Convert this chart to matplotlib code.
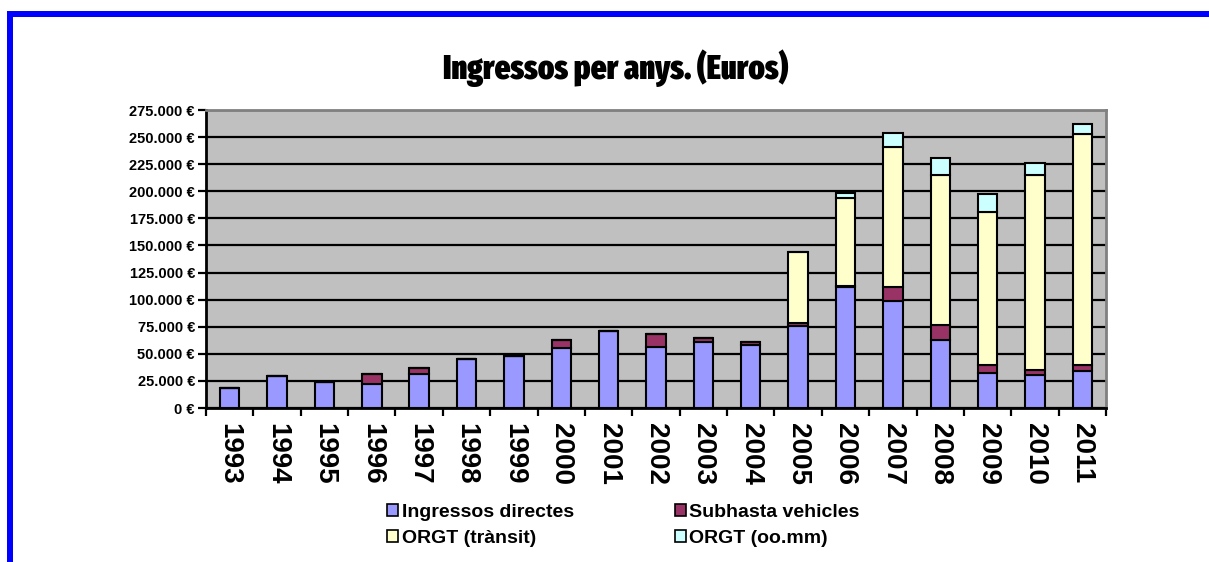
import matplotlib
matplotlib.use("Agg")
import matplotlib.pyplot as plt
from matplotlib import font_manager
from matplotlib.lines import Line2D
from matplotlib.patches import Patch
from matplotlib.ticker import FuncFormatter, MultipleLocator, FixedLocator
import numpy as np

years = ["1993", "1994", "1995", "1996", "1997", "1998", "1999", "2000", "2001", "2002",
         "2003", "2004", "2005", "2006", "2007", "2008", "2009", "2010", "2011"]
ingressos = [18000, 29500, 24000, 22000, 31000, 45500, 48000, 55000, 71000, 56000,
             61000, 58000, 75500, 112000, 98500, 62500, 32000, 30500, 34500]
subhasta = [0, 0, 0, 9500, 5500, 0, 0, 8000, 0, 12000,
            4000, 3000, 3000, 500, 13500, 14000, 8000, 4500, 5500]
transit = [0, 0, 0, 0, 0, 0, 0, 0, 0, 0,
           0, 0, 65000, 81500, 129000, 138500, 141000, 180000, 213000]
oomm = [0, 0, 0, 0, 0, 0, 0, 0, 0, 0,
        0, 0, 0, 4000, 12500, 15500, 16500, 11000, 9500]
series_names = ["Ingressos directes", "Subhasta vehicles", "ORGT (trànsit)", "ORGT (oo.mm)"]
colors = ["#9999FF", "#993366", "#FFFFCC", "#CCFFFF"]
title = "Ingressos per anys. (Euros)"

# pick a condensed, heavy font for the title if one is installed
best = None
for f in font_manager.fontManager.ttflist:
    nm = f.name.lower()
    fn = f.fname.lower()
    cond = ("narrow" in nm or "condensed" in nm or "condensed" in fn or "narrow" in fn
            or str(f.stretch) in ("condensed", "semi-condensed", "extra-condensed",
                                  "ultra-condensed") or (isinstance(f.stretch, int) and f.stretch < 500))
    if not cond:
        continue
    try:
        w = int(f.weight)
    except Exception:
        w = {"bold": 700, "heavy": 800, "black": 900, "normal": 400}.get(str(f.weight), 400)
    if "italic" in fn or "oblique" in fn or f.style != "normal":
        continue
    score = w
    if "extracondensed" in fn.replace("-", "").replace(" ", ""):
        score += 50
    if best is None or score > best[0]:
        best = (score, f)
title_kw = dict(fontsize=19, fontweight="bold", family=["DejaVu Sans"])
if best is not None:
    title_kw = dict(fontproperties=font_manager.FontProperties(fname=best[1].fname, size=24))

W, H = 1209, 562
fig = plt.figure(figsize=(W / 100, H / 100), dpi=100)
fig.patch.set_facecolor("white")

ax = fig.add_axes([206 / W, 1 - 408 / H, 900 / W, 298 / H])
ax.set_facecolor("#C0C0C0")

x = np.arange(len(years))
series = [ingressos, subhasta, transit, oomm]
bottom = np.zeros(len(years))
for vals, c in zip(series, colors):
    v = np.array(vals, dtype=float)
    ax.bar(x, v, bottom=bottom, width=0.41, color=c, edgecolor="black",
           linewidth=1.5, zorder=3)
    bottom += v

ax.set_xlim(-0.5, len(years) - 0.5)
ax.set_ylim(0, 275000)
ax.yaxis.set_major_locator(MultipleLocator(25000))


def eur(v, pos):
    s = f"{int(round(v)):,}".replace(",", ".")
    return f"{s} €"


ax.yaxis.set_major_formatter(FuncFormatter(eur))
ax.grid(axis="y", color="black", linewidth=1.6, zorder=1)
ax.set_axisbelow(True)

ax.set_xticks(x)
ax.set_xticklabels(years, rotation=270, fontsize=20, fontweight="bold",
                   family=["Liberation Sans", "DejaVu Sans"])
ax.xaxis.set_minor_locator(FixedLocator(np.arange(-0.5, len(years), 1.0)))
ax.tick_params(axis="x", which="major", length=0, pad=11)
ax.tick_params(axis="x", which="minor", length=6, width=1.6, color="black", direction="out")
ax.tick_params(axis="y", length=6, width=1.6, color="black", direction="out", pad=2)
for lbl in ax.get_yticklabels():
    lbl.set_fontsize(10.5)
    lbl.set_fontweight("bold")
    lbl.set_family(["Liberation Sans", "DejaVu Sans"])
    lbl.set_color("black")

ax.spines["left"].set_color("black")
ax.spines["left"].set_linewidth(2)
ax.spines["bottom"].set_color("black")
ax.spines["bottom"].set_linewidth(2)
ax.spines["top"].set_color("#808080")
ax.spines["top"].set_linewidth(2)
ax.spines["right"].set_color("#808080")
ax.spines["right"].set_linewidth(2)

fig.text(616 / W, 1 - 68 / H, title, ha="center", va="center", **title_kw)

handles = [Patch(facecolor=c, edgecolor="black", linewidth=1.2) for c in colors]
order = [0, 2, 1, 3]
leg = fig.legend([handles[i] for i in order], [series_names[i] for i in order],
                 ncol=2, loc="upper left", bbox_to_anchor=(387 / W, 1 - 504 / H),
                 frameon=False, borderpad=0, borderaxespad=0,
                 handlelength=0.55, handleheight=0.55, handletextpad=0.2,
                 columnspacing=5.2, labelspacing=0.45,
                 prop={"size": 14, "weight": "bold", "family": ["Liberation Sans", "DejaVu Sans"]})

# blue frame
lw_pt = 6 * 72 / 100
fig.add_artist(Line2D([10 / W, 10 / W], [0, 1 - 14 / H], transform=fig.transFigure,
                      color="#0000FF", linewidth=lw_pt, solid_capstyle="butt"))
fig.add_artist(Line2D([7 / W, 1.0], [1 - 14 / H, 1 - 14 / H], transform=fig.transFigure,
                      color="#0000FF", linewidth=lw_pt, solid_capstyle="butt"))

fig.savefig("out.png", dpi=100, facecolor="white")
